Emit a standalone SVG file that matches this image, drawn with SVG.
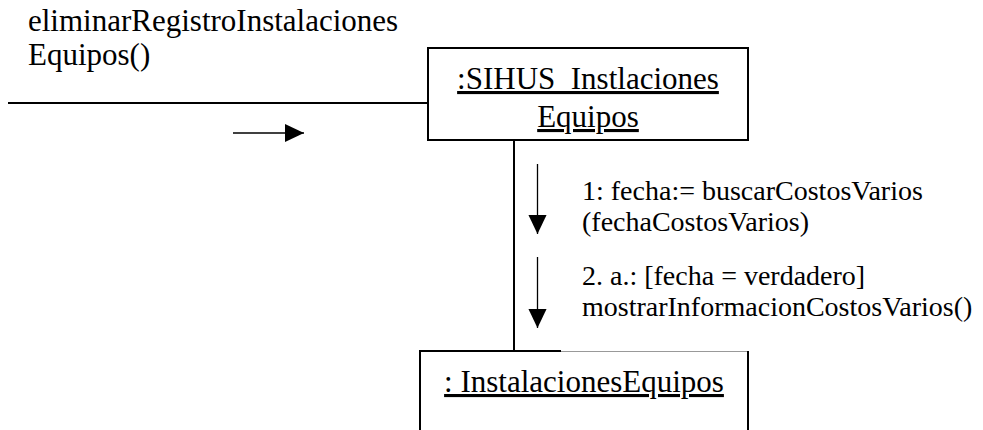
<svg xmlns="http://www.w3.org/2000/svg" width="983" height="430" viewBox="0 0 983 430">
  <style>
    text { font-family: "Liberation Serif", Tinos, "Times New Roman", Times, "DejaVu Serif", serif; fill: #000; }
    .big { font-size: 31px; }
    .lbl { font-size: 28px; }
    .u { text-decoration: underline; }
    .box { fill: #fff; stroke: #000; stroke-width: 2; }
    .ln { stroke: #000; stroke-width: 2; fill: none; }
    .ar { stroke: #000; stroke-width: 1.3; fill: none; }
  </style>
  <defs>
    <marker id="head" markerWidth="20" markerHeight="20" refX="0" refY="0" orient="auto" markerUnits="userSpaceOnUse" viewBox="-21 -11 22 22">
      <path d="M-21,-10 L0,0 L-21,10 Z" fill="#000"/>
    </marker>
  </defs>
  <rect width="983" height="430" fill="#fff"/>

  <g id="connectors">
    <line class="ln" x1="8" y1="103" x2="428" y2="103"/>
    <line class="ln" x1="514" y1="140" x2="514" y2="351"/>
    <g id="msg-arrows">
      <line class="ar" x1="233" y1="133" x2="304" y2="133" marker-end="url(#head)"/>
      <line class="ar" x1="537.5" y1="164" x2="537.5" y2="234" marker-end="url(#head)"/>
      <line class="ar" x1="537.5" y1="257" x2="537.5" y2="328" marker-end="url(#head)"/>
    </g>
  </g>

  <g id="message-labels">
    <text class="big" x="28" y="31" font-family="Liberation Serif, serif">eliminarRegistroInstalaciones</text>
    <text class="big" x="28" y="65">Equipos()</text>
    <text class="lbl" x="582" y="200">1: fecha:= buscarCostosVarios</text>
    <text class="lbl" x="582" y="231">(fechaCostosVarios)</text>
    <text class="lbl" x="582" y="285">2. a.: [fecha = verdadero]</text>
    <text class="lbl" x="582" y="316">mostrarInformacionCostosVarios()</text>
  </g>

  <g id="node-sihus">
    <rect class="box" x="428" y="48" width="320" height="92"/>
    <text class="big u" x="588" y="89" text-anchor="middle">:SIHUS_Instlaciones</text>
    <text class="big u" x="588" y="127" text-anchor="middle">Equipos</text>
  </g>

  <g id="node-instalaciones">
    <path class="ln" d="M420,440 V351 H561"/>
    <line x1="561" y1="351.5" x2="748" y2="351.5" stroke="#999" stroke-width="1"/>
    <line class="ln" x1="748" y1="351" x2="748" y2="440"/>
    <text class="big u" x="584" y="392" text-anchor="middle">: InstalacionesEquipos</text>
  </g>
</svg>
